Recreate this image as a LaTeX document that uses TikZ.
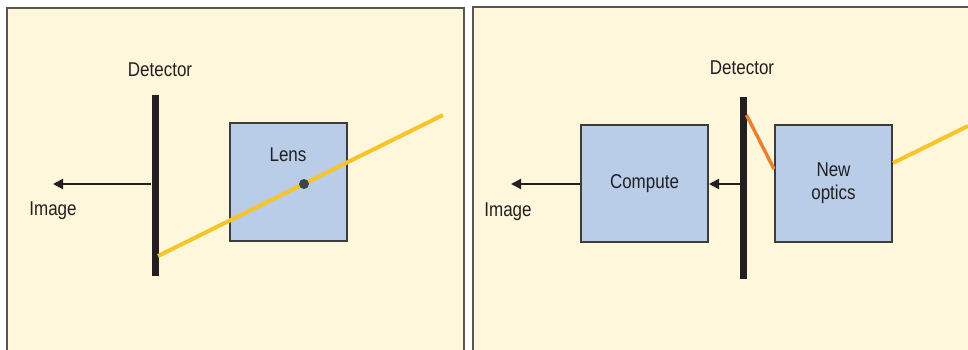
\documentclass[tikz,border=0pt]{standalone}
\usepackage{fontspec}
\setmainfont{Liberation Sans}[FakeStretch=0.85]
\usetikzlibrary{arrows.meta}
\definecolor{cream}{HTML}{FEF7DC}
\definecolor{panelgray}{HTML}{5A554F}
\definecolor{boxblue}{HTML}{B9CDE8}
\definecolor{boxedge}{HTML}{3C3C3C}
\definecolor{barblack}{HTML}{231F20}
\definecolor{rayyellow}{HTML}{F7C52A}
\definecolor{rayorange}{HTML}{E8812E}
\definecolor{dotgray}{HTML}{3D4548}
\begin{document}
\begin{tikzpicture}[x=0.75pt,y=-0.75pt,
  every node/.style={font=\fontsize{15}{17.25}\selectfont, text=barblack},
  panel/.style={draw=panelgray, line width=1.2pt, fill=cream},
  block/.style={draw=boxedge, fill=boxblue, line width=1.5pt, inner sep=0pt,
    align=center, minimum height=87.75pt},
  detbar/.style={fill=barblack, draw=none, inner sep=0pt, minimum width=5.25pt},
  flow/.style={draw=barblack, line width=1.5pt, -{Triangle[length=7.5pt,width=7.5pt]}},
  ray/.style={draw=rayyellow, line width=3pt},
  glint/.style={draw=rayorange, line width=2.6pt},
  focusdot/.style={circle, fill=dotgray, inner sep=0pt, minimum size=7.5pt}]
\useasboundingbox (0,0) rectangle (968,350);

% two framed panels
\begin{scope}
  \clip (0,0) rectangle (968,350);
  \fill[white] (0,0) rectangle (968,350);
  \draw[panel] (7,8) rectangle (464,370);
  \draw[panel] (473,7) rectangle (990,370);
\end{scope}

% ---- conventional camera: lens in front of detector ----
\node (detlabel1) at (160,70) {Detector};
\node[detbar, minimum height=135.75pt] (det1) at (155,185.5) {};
\node[block, minimum width=87.75pt, minimum height=88.5pt] (lens) at (288.5,182) {};
\node (lenslabel) at (288,155) {Lens};
\coordinate (img1) at (53,184);
\coordinate (rayin1) at (443,115);
\coordinate (rayhit1) at (158,256);
\draw[flow] (det1.west |- img1) -- (img1);
\node (imglabel1) at (53,211) {Image};
\draw[ray] (rayin1) -- (rayhit1);
\node[focusdot] (focus) at (304,184) {};

% ---- computational camera: new optics, detector, compute ----
\node (detlabel2) at (742,68) {Detector};
\node[detbar, minimum height=136.5pt] (det2) at (743.5,188) {};
\node[block, minimum width=95.25pt] (compute) at (644.5,183.5) {\raisebox{-1pt}{Compute}};
\node[block, minimum width=87.75pt] (optics) at (833.5,183.5) {New\\optics};
\coordinate (img2) at (511,184);
\coordinate (flowy) at (0,184);
\draw[flow] (det2.west |- flowy) -- (compute.east |- flowy);
\draw[flow] (compute.west |- flowy) -- (img2);
\node (imglabel2) at (508,212) {Image};
\coordinate (glinttop) at (746.5,115);
\coordinate (glinty) at (0,169);
\draw[glint] (glinttop) -- (optics.west |- glinty);
\coordinate (rayin2) at (968,126);
\coordinate (rayy) at (0,163);
\draw[ray] (optics.east |- rayy) -- (rayin2);
\end{tikzpicture}
\end{document}
